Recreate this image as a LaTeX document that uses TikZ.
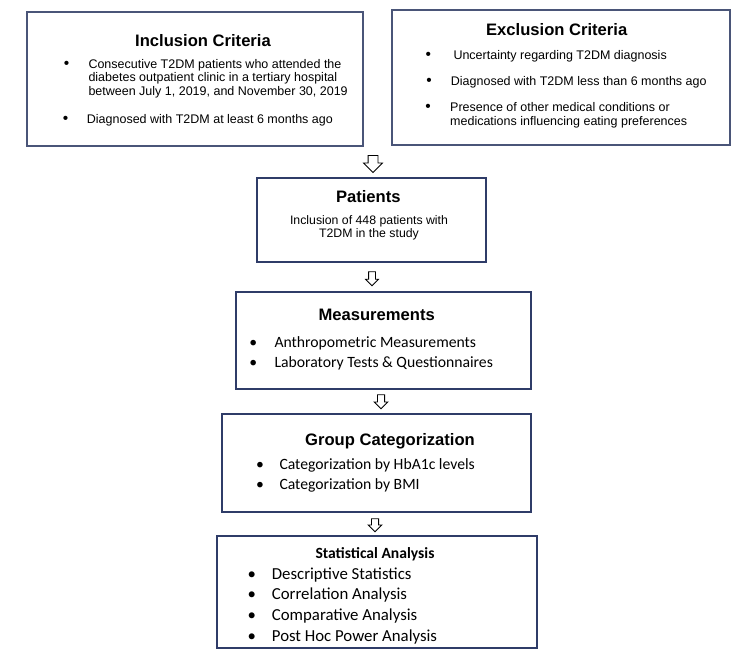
\documentclass[tikz,border=0pt]{standalone}
\usepackage{fontspec}
\setmainfont{Liberation Sans}
\newfontfamily\arialf{Liberation Sans}
\newfontfamily\calibf{Carlito}
\usetikzlibrary{shapes.arrows}
\definecolor{boxA}{HTML}{4A5578}
\definecolor{boxB}{HTML}{2F3C68}
\tikzset{
  box/.style={draw=#1, line width=1.6pt, fill=white, inner sep=0pt},
  ttl/.style={anchor=base, inner sep=0pt, font=\arialf\bfseries\fontsize{16.6}{18}\selectfont},
  atxt/.style={anchor=base west, inner sep=0pt, font=\arialf\fontsize{12.5}{14}\selectfont},
  actr/.style={anchor=base, inner sep=0pt, font=\arialf\fontsize{12.3}{14}\selectfont},
  abul/.style={anchor=base, inner sep=0pt, font=\arialf\fontsize{15.5}{14}\selectfont},
  ctxt/.style={anchor=base west, inner sep=0pt, font=\calibf\fontsize{#1}{#1}\selectfont},
  cbul/.style={anchor=base, inner sep=0pt, font=\calibf\fontsize{#1}{#1}\selectfont},
  darrow/.style={single arrow, draw=black, line width=0.8pt, fill=white, rotate=-90}
}
\begin{document}
\begin{tikzpicture}[x=1pt,y=-1pt]
\useasboundingbox (0,0) rectangle (750,664);
\fill[white] (0,0) rectangle (750,664);

% boxes
\node[box=boxA, minimum width=336pt, minimum height=134pt] (inc) at (195,79) {};
\node[box=boxA, minimum width=338pt, minimum height=135pt] (exc) at (561,77.5) {};
\node[box=boxB, minimum width=229pt, minimum height=84pt] (pat) at (371.5,220) {};
\node[box=boxB, minimum width=295pt, minimum height=97pt] (mea) at (383.5,340.5) {};
\node[box=boxB, minimum width=309pt, minimum height=98pt] (grp) at (376.5,463) {};
\node[box=boxB, minimum width=320pt, minimum height=112pt] (sta) at (377,592) {};

% inclusion
\node[ttl] (incT) at (203,46) {Inclusion Criteria};
\node[abul] (incb1) at (66.7,68.3) {\textbullet};
\node[atxt] (inc1a) at (88.3,68.3) {Consecutive T2DM patients who attended the};
\node[atxt] (inc1b) at (88.3,81.7) {diabetes outpatient clinic in a tertiary hospital};
\node[atxt] (inc1c) at (88.3,95) {between July 1, 2019, and November 30, 2019};
\node[abul] (incb2) at (65.7,123) {\textbullet};
\node[atxt] (inc2a) at (86.7,123) {Diagnosed with T2DM at least 6 months ago};

% exclusion
\node[ttl] (excT) at (556.7,35.7) {Exclusion Criteria};
\node[abul] (excb1) at (428.3,59.3) {\textbullet};
\node[atxt] (exc1) at (453.3,59.3) {Uncertainty regarding T2DM diagnosis};
\node[abul] (excb2) at (429,85) {\textbullet};
\node[atxt] (exc2) at (450.7,85) {Diagnosed with T2DM less than 6 months ago};
\node[abul] (excb3) at (428,111) {\textbullet};
\node[atxt] (exc3a) at (450,111) {Presence of other medical conditions or};
\node[atxt] (exc3b) at (450,125) {medications influencing eating preferences};

% patients
\node[ttl] (patT) at (368.3,202.3) {Patients};
\node[actr] (pat1) at (369,224.3) {Inclusion of 448 patients with};
\node[actr] (pat2) at (369,237.7) {T2DM in the study};

% measurements
\node[ttl] (meaT) at (376.7,320) {Measurements};
\node[cbul=15.7] (meab1) at (253.3,347.3) {\textbullet};
\node[ctxt=15.7] (mea1) at (274.3,347.3) {Anthropometric Measurements};
\node[cbul=15.7] (meab2) at (253.3,367.7) {\textbullet};
\node[ctxt=15.7] (mea2) at (274.3,367.7) {Laboratory Tests \& Questionnaires};

% group
\node[ttl] (grpT) at (390,445) {Group Categorization};
\node[cbul=15.7] (grpb1) at (260,469) {\textbullet};
\node[ctxt=15.7] (grp1) at (279.3,469) {Categorization by HbA1c levels};
\node[cbul=15.7] (grpb2) at (260,489.3) {\textbullet};
\node[ctxt=15.7] (grp2) at (279.3,489.3) {Categorization by BMI};

% statistics
\node[anchor=base, inner sep=0pt, font=\calibf\bfseries\fontsize{15.6}{16}\selectfont] (staT) at (375,558.3) {Statistical Analysis};
\node[cbul=16.8] (stab1) at (251.7,579) {\textbullet};
\node[ctxt=16.8] (sta1) at (271.7,579) {Descriptive Statistics};
\node[cbul=16.8] (stab2) at (251.7,599.3) {\textbullet};
\node[ctxt=16.8] (sta2) at (271.7,599.3) {Correlation Analysis};
\node[cbul=16.8] (stab3) at (251.7,620) {\textbullet};
\node[ctxt=16.8] (sta3) at (271.7,620) {Comparative Analysis};
\node[cbul=16.8] (stab4) at (251.7,641.7) {\textbullet};
\node[ctxt=16.8] (sta4) at (271.7,641.7) {Post Hoc Power Analysis};

% block arrows
\node[darrow, inner sep=4.5pt, minimum height=17pt, single arrow head extend=4.5pt] (a1) at (373,161.5) {};
\node[darrow, inner sep=3pt, minimum height=14pt, single arrow head extend=3pt] (a2) at (372,277) {};
\node[darrow, inner sep=3.2pt, minimum height=14pt, single arrow head extend=3.3pt] (a3) at (381,400) {};
\node[darrow, inner sep=3.2pt, minimum height=13pt, single arrow head extend=3.3pt] (a4) at (375,523.5) {};
\end{tikzpicture}
\end{document}
